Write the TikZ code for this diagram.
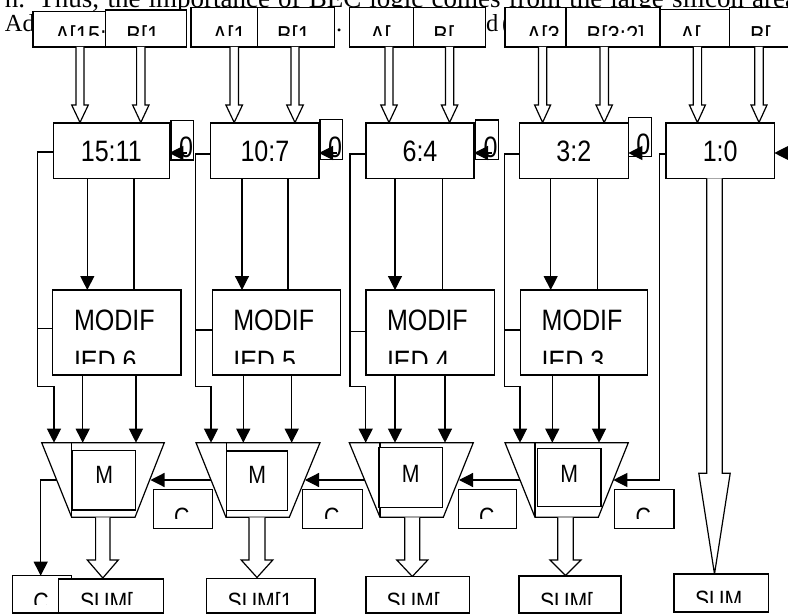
\documentclass[tikz,border=0pt]{standalone}
\usepackage{fontspec}
\usepackage{graphicx}
\setmainfont{Liberation Sans}
\newfontfamily\tms{Liberation Serif}
\usetikzlibrary{arrows.meta}
\newcommand{\T}[2]{\scalebox{0.85}[1]{\fontsize{#1}{#1}\selectfont #2}}
\newcommand{\bx}[5]{\node[box, minimum width={(#4)-(#2)}, minimum height={(#5)-(#3)}] (#1) at (#2,#3) {};}
\newcommand{\ct}[8]{\begin{scope}\clip (#2,#3) rectangle (#4,#5); \node[txt] (#1) at (#6,#7) {#8};\end{scope}}
\newcommand{\ctt}[9]{\begin{scope}\clip (#2,#3) rectangle (#4,#5); \node[txt] (#1) at (#6,#7) {\T{29.5}{#8}}; \node[txt] (#1b) at (#6,#7+41) {\T{29.5}{#9}};\end{scope}}
\newcommand{\hol}[6]{\draw[hol] ({#1-#5},#2) -- ({#1-#5},#3) -- ({#1-#6},#3) -- (#1,#4) -- ({#1+#6},#3) -- ({#1+#5},#3) -- ({#1+#5},#2);}
\tikzset{
 box/.style={draw, line width=1.2pt, fill=white, inner sep=0pt, outer sep=0pt, anchor=north west},
 ln/.style={line width=1.2pt},
 ar/.style={line width=1.2pt, -{Triangle[length=14pt,width=14pt]}},
 hol/.style={draw, line width=1.2pt, fill=white, line join=miter},
 txt/.style={inner sep=0pt, outer sep=0pt, anchor=base west},
 mux/.style={draw, line width=1.2pt, fill=white, line join=miter},
}
\begin{document}
\begin{tikzpicture}[x=1pt,y=-1pt]
\useasboundingbox (0,0) rectangle (788,615);
% background document text
\node[txt] (bg1) at (5,7.5) {\tms\fontsize{27}{27}\selectfont\makebox[792pt][s]{n. Thus, the importance of BEC logic comes from the large silicon area}};
\node[txt] (bg2) at (5,31.7) {\tms\fontsize{24.5}{24.5}\selectfont Ad};
\node[txt] (bg3) at (336,31.7) {\tms\fontsize{24.5}{24.5}\selectfont .};
\node[txt] (bg4) at (486,31.7) {\tms\fontsize{24.5}{24.5}\selectfont d};
\node[txt] (bg5) at (502,31.7) {\tms\fontsize{24.5}{24.5}\selectfont (};
% input boxes
\bx{a1}{33}{11.7}{105.3}{47}  \ct{ta1}{33}{11.7}{105.3}{36}{55}{44.5}{\T{26}{A[15:}}
\bx{b1}{105.3}{10}{186.7}{47} \ct{tb1}{105.3}{10}{186.7}{36}{126.3}{44.5}{\T{26}{B[1}}
\bx{a2}{191}{7.3}{257.7}{47}  \ct{ta2}{191}{7.3}{257.7}{36}{212.7}{44.5}{\T{26}{A[1}}
\bx{b2}{257.7}{7.3}{334.3}{47} \ct{tb2}{257.7}{7.3}{334.3}{36}{277}{44.5}{\T{26}{B[1}}
\bx{a3}{349.3}{7.3}{413.3}{47} \ct{ta3}{349.3}{7.3}{413.3}{36}{370}{44.5}{\T{26}{A[}}
\bx{b3}{413.3}{7.3}{485.7}{47} \ct{tb3}{413.3}{7.3}{485.7}{36}{433.3}{44.5}{\T{26}{B[}}
\bx{a4}{505}{7.3}{566}{47}    \ct{ta4}{505}{7.3}{566}{36}{526.7}{44.5}{\T{26}{A[3}}
\bx{b4}{566}{7.3}{660}{47}    \ct{tb4}{566}{7.3}{660}{36}{586.7}{44.5}{\T{26}{B[3:2]}}
\bx{a5}{660}{9.3}{729.3}{47}  \ct{ta5}{660}{9.3}{729.3}{36}{680}{44.5}{\T{26}{A[}}
\bx{b5}{729.3}{7.3}{795}{47}  \ct{tb5}{729.3}{7.3}{795}{36}{750}{44.5}{\T{26}{B[}}
% input hollow arrows
\hol{80}{47}{105}{122.5}{4}{8.3}
\hol{140.8}{47}{105}{122.5}{4.2}{8.2}
\hol{234.2}{47}{105}{122.5}{4.2}{8.3}
\hol{295}{47}{105}{122.5}{4}{8.3}
\hol{389}{47}{105}{122.5}{4}{8.2}
\hol{449.6}{47}{105}{122.5}{4.2}{8.2}
\hol{542.6}{47}{105}{122.5}{4.2}{8}
\hol{604.2}{47}{105}{122.5}{4.2}{8.2}
\hol{697.4}{47}{105}{122.5}{4.2}{8}
\hol{759}{47}{105}{122.5}{4.2}{8}
% group boxes
\bx{g1}{53.3}{123}{169.3}{178.3} \node[txt,anchor=base] (tg1) at (111.3,162) {\T{29.5}{15:11}};
\bx{g2}{210.7}{123}{319}{178.3}  \node[txt,anchor=base] (tg2) at (264.9,162) {\T{29.5}{10:7}};
\bx{g3}{366}{123}{474}{178.3}    \node[txt,anchor=base] (tg3) at (420,162) {\T{29.5}{6:4}};
\bx{g4}{519.3}{123}{628.3}{178.3} \node[txt,anchor=base] (tg4) at (573.8,162) {\T{29.5}{3:2}};
\bx{g5}{666}{123}{774.3}{178.3}  \node[txt,anchor=base] (tg5) at (720.2,162) {\T{29.5}{1:0}};
% zero boxes with arrows
\bx{z1}{171}{120.7}{193.3}{160}   \ct{tz1}{171}{120.7}{193.3}{160}{179}{158}{\T{29.5}{0}}
\bx{z2}{320}{119.3}{342.7}{159.3} \ct{tz2}{320}{119.3}{342.7}{159.3}{328}{157.5}{\T{29.5}{0}}
\bx{z3}{475.7}{120}{498.3}{159.3} \ct{tz3}{475.7}{120}{498.3}{159.3}{483.7}{157.5}{\T{29.5}{0}}
\bx{z4}{628.3}{117.3}{651.7}{156.7} \ct{tz4}{628.3}{117.3}{651.7}{156.7}{636.3}{155}{\T{29.5}{0}}
\draw[ar] (187,153) -- (g1.east |- 0,153);
\draw[ar] (337,153) -- (g2.east |- 0,153);
\draw[ar] (492,153) -- (g3.east |- 0,153);
\draw[ar] (645,153) -- (g4.east |- 0,153);
\draw[ar] (805,153) -- (g5.east |- 0,153);
% big hollow arrow from 1:0
\hol{714.5}{178.3}{473.3}{574}{7.8}{15.7}
% MODIF boxes
\bx{m1}{52.7}{290}{181}{375}    \ctt{tm1}{52.7}{290}{181}{363.3}{74}{330}{MODIF}{IED 6}
\bx{m2}{212.3}{290}{340.7}{375} \ctt{tm2}{212.3}{290}{340.7}{363.3}{233.3}{330}{MODIF}{IED 5}
\bx{m3}{366}{290}{494.3}{375}   \ctt{tm3}{366}{290}{494.3}{363.3}{387}{330}{MODIF}{IED 4}
\bx{m4}{520.7}{290}{647.7}{375} \ctt{tm4}{520.7}{290}{647.7}{363.3}{541.7}{330}{MODIF}{IED 3}
% group -> MODIF lines
\draw[ar] (87.3,0 |- g1.south) -- (87.3,0 |- m1.north);  \draw[ln] (134,0 |- g1.south) -- (134,0 |- m1.north);
\draw[ar] (242,0 |- g2.south) -- (242,0 |- m2.north);    \draw[ln] (288,0 |- g2.south) -- (288,0 |- m2.north);
\draw[ar] (395,0 |- g3.south) -- (395,0 |- m3.north);    \draw[ln] (442.3,0 |- g3.south) -- (442.3,0 |- m3.north);
\draw[ar] (550.7,0 |- g4.south) -- (550.7,0 |- m4.north); \draw[ln] (597.3,0 |- g4.south) -- (597.3,0 |- m4.north);
% mux trapezoids
\draw[mux] (41.7,442.7) coordinate (u1a) -- (164.3,442.7) coordinate (u1b) -- (135,517.3) coordinate (u1c) -- (71.7,517.3) coordinate (u1d) -- cycle;
\draw[mux] (196,442.7) coordinate (u2a) -- (320,442.7) coordinate (u2b) -- (289.3,517.3) coordinate (u2c) -- (226,517.3) coordinate (u2d) -- cycle;
\draw[mux] (349.3,442.7) coordinate (u3a) -- (473.3,442.7) coordinate (u3b) -- (443.3,517.3) coordinate (u3c) -- (380,517.3) coordinate (u3d) -- cycle;
\draw[mux] (505,442.7) coordinate (u4a) -- (628.3,442.7) coordinate (u4b) -- (598.3,517.3) coordinate (u4c) -- (535,517.3) coordinate (u4d) -- cycle;
\draw[ln] (71.7,442.7) -- (u1d);
\draw[ln] (226.5,442.7) -- (226.5,517.3);
\draw[ln] (380,442.7) -- (u3d);
\draw[ln] (535,442.7) -- (u4d);
\bx{i1}{72.7}{450.7}{135.7}{510}  \node[txt,anchor=base] (ti1) at (104.2,483) {\T{25}{M}};
\bx{i2}{226.7}{451}{287.7}{510.5} \node[txt,anchor=base] (ti2) at (257.2,483) {\T{25}{M}};
\bx{i3}{379}{447.3}{442.7}{507.3} \node[txt,anchor=base] (ti3) at (410.8,482) {\T{25}{M}};
\bx{i4}{537.7}{448.3}{601}{506.7} \node[txt,anchor=base] (ti4) at (569.3,482) {\T{25}{M}};
% MODIF -> mux lines
\draw[ar] (82.7,0 |- m1.south) -- (82.7,442.7);  \draw[ar] (136,0 |- m1.south) -- (136,442.7);
\draw[ar] (243.3,0 |- m2.south) -- (243.3,442.7); \draw[ar] (291.7,0 |- m2.south) -- (291.7,442.7);
\draw[ar] (395,0 |- m3.south) -- (395,442.7);    \draw[ar] (445,0 |- m3.south) -- (445,442.7);
\draw[ar] (552.3,0 |- m4.south) -- (552.3,442.7); \draw[ar] (599,0 |- m4.south) -- (599,442.7);
% carry-select lines from group boxes
\draw[ar] (g1.west |- 0,152) -- (37.7,152) -- (37.7,386.7) -- (54,386.7) -- (54,442.7);
\draw[ln] (37.7,328.3) -- (m1.west |- 0,328.3);
\draw[ar] (g2.west |- 0,154) -- (195.7,154) -- (195.7,386.7) -- (211,386.7) -- (211,442.7);
\draw[ln] (195.7,330) -- (m2.west |- 0,330);
\draw[ar] (g3.west |- 0,154) -- (350,154) -- (350,386.7) -- (365.7,386.7) -- (365.7,442.7);
\draw[ln] (350,331.7) -- (m3.west |- 0,331.7);
\draw[ar] (g4.west |- 0,154) -- (504.3,154) -- (504.3,386.7) -- (520,386.7) -- (520,442.7);
\draw[ln] (504.3,330) -- (m4.west |- 0,330);
\draw[ar] (g5.west |- 0,154) -- (659.3,154) -- (659.3,480) -- (613.3,480);
% C boxes
\bx{c1}{153.3}{489.3}{212.3}{528.3} \ct{tc1}{153.3}{489.3}{212.3}{518.3}{174}{525.5}{\T{25}{C}}
\bx{c2}{302.7}{489.3}{362.3}{528.3} \ct{tc2}{302.7}{489.3}{362.3}{518.3}{324}{525.5}{\T{25}{C}}
\bx{c3}{458.3}{489.3}{516.7}{528.3} \ct{tc3}{458.3}{489.3}{516.7}{518.3}{479}{525.5}{\T{25}{C}}
\bx{c4}{614.3}{489.3}{674}{528.3}   \ct{tc4}{614.3}{489.3}{674}{518.3}{635.5}{525.5}{\T{25}{C}}
% mux to mux carry arrows
\draw[ar] (211,480) -- (150.5,480);
\draw[ar] (364.7,480) -- (305,480);
\draw[ar] (520,480) -- (459,480);
% SUM hollow arrows
\hol{102.8}{517.3}{560}{578}{7.2}{15.5}
\hol{257}{517.3}{560}{577.5}{8}{15.8}
\hol{412.3}{517.3}{560}{576.5}{7.5}{15.5}
\hol{565.5}{517.3}{560}{575.5}{7.8}{15.5}
% bottom boxes
\bx{cb}{12.3}{575.7}{71.7}{613} \ct{tcb}{12.3}{575.7}{71.7}{604}{33.3}{610}{\T{25}{C}}
\draw[ar] (56.7,480) -- (40.7,480) -- (40.7,0 |- cb.north);
\bx{s1}{58.3}{579}{163.3}{613}  \ct{ts1}{58.3}{579}{163.3}{604}{80}{610}{\T{25}{SUM[}}
\bx{s2}{206.7}{578.3}{315}{613} \ct{ts2}{206.7}{578.3}{315}{604}{227.7}{610}{\T{25}{SUM[1}}
\bx{s3}{366}{576.7}{469.3}{613} \ct{ts3}{366}{576.7}{469.3}{604}{386.7}{610}{\T{25}{SUM[}}
\bx{s4}{519}{576}{621}{613}     \ct{ts4}{519}{576}{621}{604}{540}{610}{\T{25}{SUM[}}
\bx{s5}{674}{574}{768.3}{612}   \ct{ts5}{674}{574}{768.3}{602.5}{695}{608}{\T{25}{SUM}}
\end{tikzpicture}
\end{document}
